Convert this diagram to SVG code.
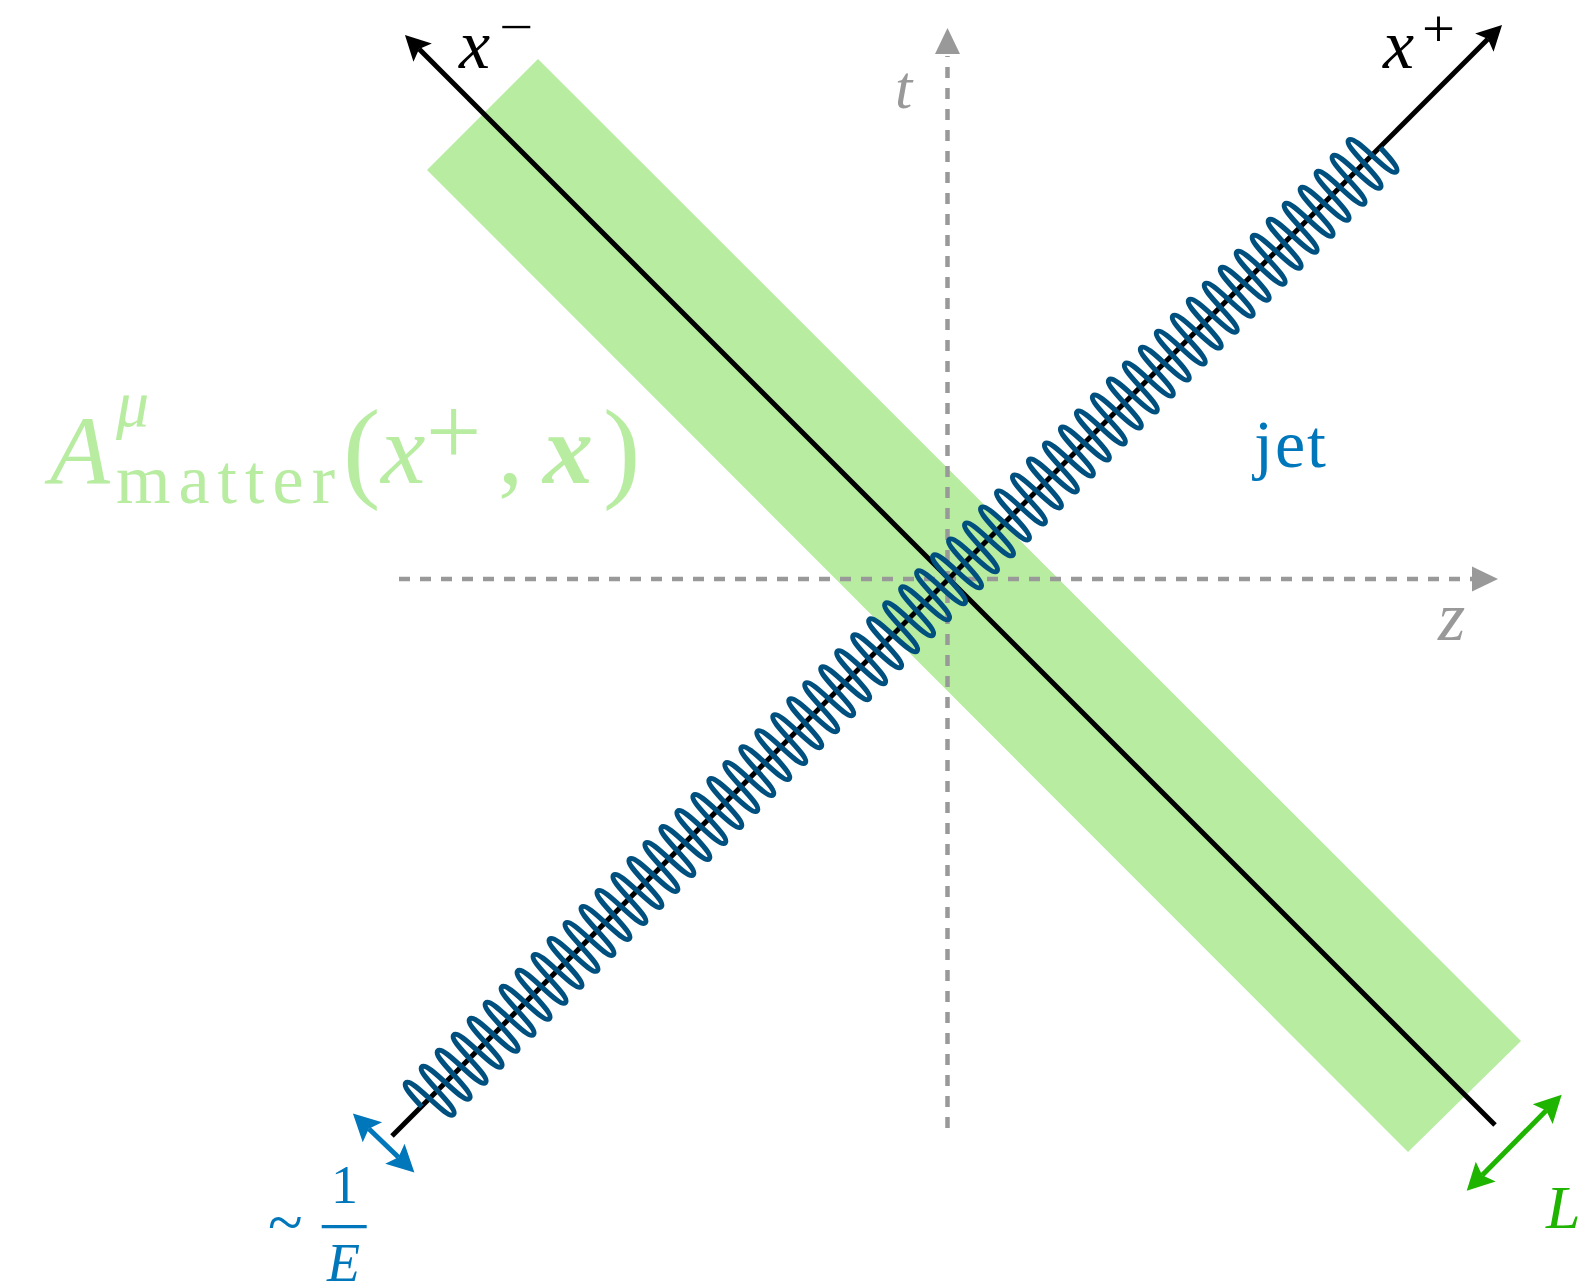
<svg xmlns="http://www.w3.org/2000/svg" width="1584" height="1283" viewBox="0 0 1584 1283">
<style>
.math{font-family:"Liberation Serif","Times New Roman",serif;font-style:italic}
.rm{font-family:"Liberation Serif","Times New Roman",serif;font-style:normal}
.axis{stroke:#000;stroke-width:5;fill:none}
.dash{stroke:#999;stroke-width:4.5;stroke-dasharray:11 10;fill:none}
.coil{stroke:#00507f;stroke-width:5.2;fill:none;stroke-linejoin:round}
</style>
<defs>
<marker id="ahBlack" markerUnits="userSpaceOnUse" markerWidth="26" markerHeight="28" viewBox="0 -14 26 28" refX="5" refY="0" orient="auto-start-reverse" style="overflow:visible"><path d="M25,0 L0,-13 L5,0 L0,13 Z" fill="#000"/></marker>
<marker id="ahGreen" markerUnits="userSpaceOnUse" markerWidth="28" markerHeight="30" viewBox="0 -15 28 30" refX="5" refY="0" orient="auto-start-reverse" style="overflow:visible"><path d="M27,0 L0,-14 L5,0 L0,14 Z" fill="#1fb400"/></marker>
<marker id="ahBlue" markerUnits="userSpaceOnUse" markerWidth="28" markerHeight="30" viewBox="0 -15 28 30" refX="5" refY="0" orient="auto-start-reverse" style="overflow:visible"><path d="M27,0 L0,-14 L5,0 L0,14 Z" fill="#0077bb"/></marker>
</defs>

<g id="matter-band">
<polygon points="538,59 1521,1041 1408,1152 427,170" fill="#b7eca1"/>
</g>

<g id="connectors">
<g id="t-axis">
<line class="dash" x1="947.5" y1="1128" x2="947.5" y2="56"/>
<path d="M947.5,28 L960,54 L935,54 Z" fill="#999"/>
</g>
<g id="z-axis">
<line class="dash" x1="399" y1="579" x2="1473" y2="579"/>
<path d="M1498,579 L1472,591.5 L1472,566.5 Z" fill="#999"/>
</g>
<line id="xminus-axis" class="axis" x1="1495" y1="1125" x2="419.1" y2="49.1" marker-end="url(#ahBlack)"/>
<line id="xplus-axis" class="axis" x1="392" y1="1136" x2="1487.9" y2="39.1" marker-end="url(#ahBlack)"/>
<line id="L-arrow" x1="1482.2" y1="1175.2" x2="1546.2" y2="1110.5" stroke="#1fb400" stroke-width="5" marker-start="url(#ahGreen)" marker-end="url(#ahGreen)"/>
<line id="E-arrow" x1="368.8" y1="1128.8" x2="398.5" y2="1157.2" stroke="#0077bb" stroke-width="5" marker-start="url(#ahBlue)" marker-end="url(#ahBlue)"/>
</g>

<g id="jet-coil" transform="translate(421.7,1106.7) rotate(-45)">
<path class="coil" d="M0,0 c0.575,-14 1.15,-28 5.65,-28
c9,0 2.3,56 11.3,56c9,0 2.3,-56 11.3,-56 c9,0 2.3,56 11.3,56c9,0 2.3,-56 11.3,-56 c9,0 2.3,56 11.3,56c9,0 2.3,-56 11.3,-56
c9,0 2.3,56 11.3,56c9,0 2.3,-56 11.3,-56 c9,0 2.3,56 11.3,56c9,0 2.3,-56 11.3,-56 c9,0 2.3,56 11.3,56c9,0 2.3,-56 11.3,-56
c9,0 2.3,56 11.3,56c9,0 2.3,-56 11.3,-56 c9,0 2.3,56 11.3,56c9,0 2.3,-56 11.3,-56 c9,0 2.3,56 11.3,56c9,0 2.3,-56 11.3,-56
c9,0 2.3,56 11.3,56c9,0 2.3,-56 11.3,-56 c9,0 2.3,56 11.3,56c9,0 2.3,-56 11.3,-56 c9,0 2.3,56 11.3,56c9,0 2.3,-56 11.3,-56
c9,0 2.3,56 11.3,56c9,0 2.3,-56 11.3,-56 c9,0 2.3,56 11.3,56c9,0 2.3,-56 11.3,-56 c9,0 2.3,56 11.3,56c9,0 2.3,-56 11.3,-56
c9,0 2.3,56 11.3,56c9,0 2.3,-56 11.3,-56 c9,0 2.3,56 11.3,56c9,0 2.3,-56 11.3,-56 c9,0 2.3,56 11.3,56c9,0 2.3,-56 11.3,-56
c9,0 2.3,56 11.3,56c9,0 2.3,-56 11.3,-56 c9,0 2.3,56 11.3,56c9,0 2.3,-56 11.3,-56 c9,0 2.3,56 11.3,56c9,0 2.3,-56 11.3,-56
c9,0 2.3,56 11.3,56c9,0 2.3,-56 11.3,-56 c9,0 2.3,56 11.3,56c9,0 2.3,-56 11.3,-56 c9,0 2.3,56 11.3,56c9,0 2.3,-56 11.3,-56
c9,0 2.3,56 11.3,56c9,0 2.3,-56 11.3,-56 c9,0 2.3,56 11.3,56c9,0 2.3,-56 11.3,-56 c9,0 2.3,56 11.3,56c9,0 2.3,-56 11.3,-56
c9,0 2.3,56 11.3,56c9,0 2.3,-56 11.3,-56 c9,0 2.3,56 11.3,56c9,0 2.3,-56 11.3,-56 c9,0 2.3,56 11.3,56c9,0 2.3,-56 11.3,-56
c9,0 2.3,56 11.3,56c9,0 2.3,-56 11.3,-56 c9,0 2.3,56 11.3,56c9,0 2.3,-56 11.3,-56 c9,0 2.3,56 11.3,56c9,0 2.3,-56 11.3,-56
c9,0 2.3,56 11.3,56c9,0 2.3,-56 11.3,-56 c9,0 2.3,56 11.3,56c9,0 2.3,-56 11.3,-56 c9,0 2.3,56 11.3,56c9,0 2.3,-56 11.3,-56
c9,0 2.3,56 11.3,56c9,0 2.3,-56 11.3,-56 c9,0 2.3,56 11.3,56c9,0 2.3,-56 11.3,-56 c9,0 2.3,56 11.3,56c9,0 2.3,-56 11.3,-56
c9,0 2.3,56 11.3,56c9,0 2.3,-56 11.3,-56 c9,0 2.3,56 11.3,56c9,0 2.3,-56 11.3,-56 c9,0 2.3,56 11.3,56c9,0 2.3,-56 11.3,-56
c9,0 2.3,56 11.3,56c9,0 2.3,-56 11.3,-56 c9,0 2.3,56 11.3,56c9,0 2.3,-56 11.3,-56 c9,0 2.3,56 11.3,56c9,0 2.3,-56 11.3,-56
c9,0 2.3,56 11.3,56c9,0 2.3,-56 11.3,-56 c9,0 2.3,56 11.3,56c9,0 2.3,-56 11.3,-56 c9,0 2.3,56 11.3,56c9,0 2.3,-56 11.3,-56
c9,0 2.3,56 11.3,56c9,0 2.3,-56 11.3,-56 c9,0 2.3,56 11.3,56c9,0 2.3,-56 11.3,-56 c9,0 2.3,56 11.3,56c9,0 2.3,-56 11.3,-56
c9,0 2.3,56 11.3,56c9,0 2.3,-56 11.3,-56 c9,0 2.3,56 11.3,56c9,0 2.3,-56 11.3,-56 c9,0 2.3,56 11.3,56c9,0 2.3,-56 11.3,-56
c9,0 2.3,56 11.3,56c9,0 2.3,-56 11.3,-56 c9,0 2.3,56 11.3,56c9,0 2.3,-56 11.3,-56 c9,0 2.3,56 11.3,56c9,0 2.3,-56 11.3,-56
c9,0 2.3,56 11.3,56c9,0 2.3,-56 11.3,-56 c9,0 2.3,56 11.3,56c9,0 2.3,-56 11.3,-56
c9,0 2.3,56 11.3,56 c4.5,0 5.075,-14 5.65,-28"/>
</g>

<g id="label-xminus">
<text class="math" x="459" y="68" font-size="70">x</text>
<text class="rm" x="499" y="43" font-size="48" textLength="34" lengthAdjust="spacingAndGlyphs">−</text>
</g>
<g id="label-xplus">
<text class="math" x="1383" y="68" font-size="70">x</text>
<text class="rm" x="1422" y="46" font-size="52" textLength="33" lengthAdjust="spacingAndGlyphs">+</text>
</g>
<g id="label-t"><text class="math" x="895" y="108" font-size="62" fill="#999">t</text></g>
<g id="label-z"><text class="math" x="1438" y="640" font-size="70" fill="#999">z</text></g>
<g id="label-jet"><text class="rm" x="1254" y="467" font-size="68" fill="#0077bb" textLength="72" lengthAdjust="spacing">jet</text></g>

<g id="label-matter" fill="#b7eca1">
<text class="math" x="50" y="483" font-size="98">A</text>
<text class="math" x="116" y="426" font-size="66">μ</text>
<text class="rm" x="116" y="503" font-size="70" textLength="219" lengthAdjust="spacing">matter</text>
<text class="rm" x="343" y="487" font-size="112">(</text>
<text class="math" x="381" y="483" font-size="100">x</text>
<text class="rm" x="426" y="464" font-size="98">+</text>
<text class="rm" x="498" y="483" font-size="100">,</text>
<text class="math" x="543" y="483" font-size="100" font-weight="bold">x</text>
<text class="rm" x="603" y="487" font-size="112">)</text>
</g>

<g id="label-E" fill="#0077bb">
<text class="rm" x="268" y="1244" font-size="64">~</text>
<text class="rm" x="331" y="1203" font-size="54">1</text>
<line x1="321.7" y1="1226.7" x2="366.7" y2="1226.7" stroke="#0077bb" stroke-width="3.3"/>
<text class="math" x="327" y="1281" font-size="54">E</text>
</g>

<g id="label-L"><text class="math" x="1546" y="1228" font-size="62" fill="#1fb400">L</text></g>
</svg>
